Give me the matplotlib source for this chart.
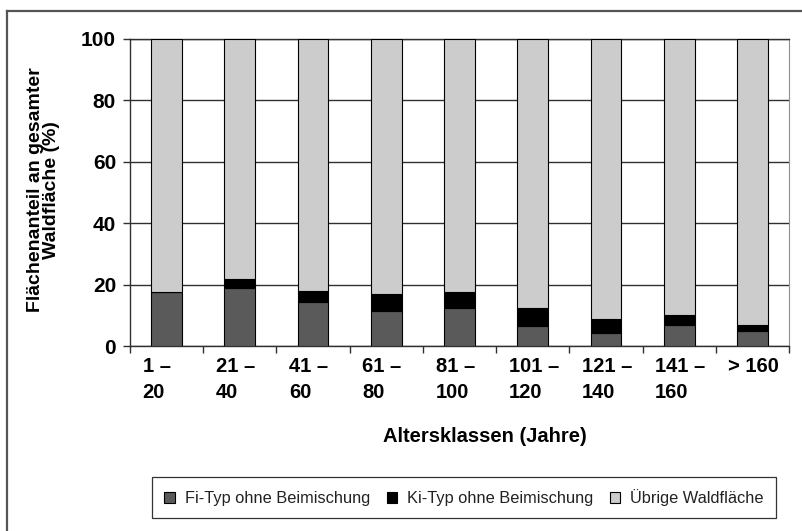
import numpy as np
import matplotlib
matplotlib.use('Agg')
import matplotlib.pyplot as plt
import matplotlib.transforms as mtransforms
from matplotlib.lines import Line2D

plt.rcParams['font.family'] = ['Liberation Sans', 'DejaVu Sans']

# Altersklassen und Flächenanteile (%)
classes = ['1 –\n20', '21 –\n40', '41 –\n60', '61 –\n80', '81 –\n100',
           '101 –\n120', '121 –\n140', '141 –\n160', '> 160']
fi_typ = [17.5, 18.8, 14.3, 11.3, 12.4, 6.4, 4.2, 6.8, 4.8]
ki_typ = [0.0, 2.9, 3.6, 5.6, 5.2, 6.1, 4.5, 3.4, 2.2]
uebrige = [100 - f - k for f, k in zip(fi_typ, ki_typ)]

labels = ['Fi-Typ ohne Beimischung', 'Ki-Typ ohne Beimischung', 'Übrige Waldfläche']
colors = ['#5a5a5a', '#000000', '#cccccc']

fig = plt.figure(figsize=(8.02, 5.31), dpi=100)
fig.patch.set_facecolor('white')
ax = fig.add_axes([130 / 802, 1 - 346 / 531, 659 / 802, 307 / 531])

x = np.arange(len(classes))
w = 0.42
b1 = ax.bar(x, fi_typ, w, color=colors[0], edgecolor='black', linewidth=0.8, label=labels[0], zorder=3)
b2 = ax.bar(x, ki_typ, w, bottom=fi_typ, color=colors[1], edgecolor='black', linewidth=0.8,
            label=labels[1], zorder=3)
b3 = ax.bar(x, uebrige, w, bottom=np.add(fi_typ, ki_typ), color=colors[2], edgecolor='black',
            linewidth=0.8, label=labels[2], zorder=3)

ax.set_xlim(-0.5, len(classes) - 0.5)
ax.set_ylim(0, 100)
ax.set_yticks(range(0, 101, 20))
ax.yaxis.grid(True, color='#303030', linewidth=1.0, zorder=0)
ax.set_axisbelow(True)

for s in ['left', 'bottom', 'top']:
    ax.spines[s].set_color('#303030')
    ax.spines[s].set_linewidth(1.0)
ax.spines['right'].set_color('#909090')
ax.spines['right'].set_linewidth(0.8)

ax.tick_params(axis='y', direction='out', length=5, width=1, color='#303030', pad=5,
               labelsize=15)
for t in ax.get_yticklabels():
    t.set_fontweight('bold')

# tick marks between categories, labels at category centres
ax.set_xticks(np.arange(len(classes) + 1) - 0.5)
ax.set_xticklabels([])
ax.tick_params(axis='x', which='major', direction='out', length=5, width=1, color='#303030')
ax.set_xticks(x, minor=True)
ax.set_xticklabels(classes, minor=True, fontsize=14.5, fontweight='bold', ha='left',
                   linespacing=1.45)
ax.tick_params(axis='x', which='minor', length=0, pad=8)
shift = mtransforms.ScaledTranslation(-24 / 100, 0, fig.dpi_scale_trans)
for t in ax.get_xticklabels(minor=True):
    t.set_transform(t.get_transform() + shift)

ax.set_xlabel('Altersklassen (Jahre)', fontsize=14.5, fontweight='bold')
ax.xaxis.set_label_coords(0.539, -0.296)
ax.xaxis.label.set_va('center')
ax.set_ylabel('Flächenanteil an gesamter\nWaldfläche (%)', fontsize=14, fontweight='bold',
              linespacing=0.9)
ax.yaxis.set_label_coords(-0.131, 0.508)
ax.yaxis.label.set_va('center')

leg = fig.legend(handles=[b1, b2, b3], labels=labels, loc='center',
                 bbox_to_anchor=((155 + 773) / 2 / 802, 1 - 497.5 / 531), ncol=3,
                 fontsize=11.8, frameon=True, fancybox=False, edgecolor='black',
                 handlelength=0.65, handleheight=0.65, handletextpad=0.6,
                 columnspacing=1.0, borderpad=0.75, labelcolor='#222222')
leg.get_frame().set_linewidth(0.9)

# outer chart border
fig.add_artist(Line2D([7 / 802, 1.0], [1 - 11 / 531, 1 - 11 / 531], color='#555555',
                      linewidth=1.6, transform=fig.transFigure))
fig.add_artist(Line2D([7 / 802, 7 / 802], [0.0, 1 - 11 / 531], color='#555555',
                      linewidth=1.6, transform=fig.transFigure))

fig.savefig('out.png', dpi=100)
